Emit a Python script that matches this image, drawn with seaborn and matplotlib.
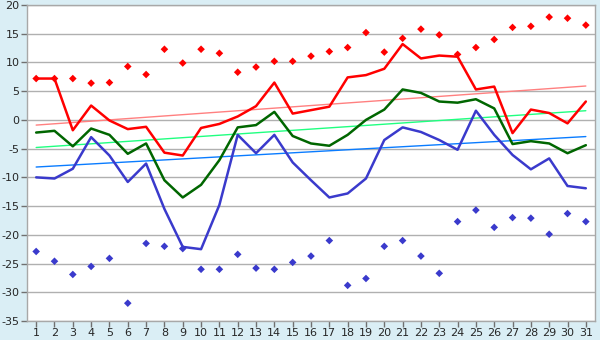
import matplotlib
matplotlib.use("Agg")
import matplotlib.pyplot as plt
import pandas as pd
import seaborn as sns

# daily temperatures for one month
days = list(range(1, 32))

max_t = [7.2, 7.2, -1.8, 2.5, -0.1, -1.6, -1.2, -5.7, -6.2, -1.4, -0.7, 0.6, 2.4, 6.5, 1.1, 1.7,
         2.3, 7.4, 7.8, 8.9, 13.2, 10.7, 11.2, 11.0, 5.3, 5.8, -2.3, 1.8, 1.2, -0.6, 3.2]
mean_t = [-2.2, -1.9, -4.6, -1.5, -2.6, -5.9, -4.1, -10.5, -13.5, -11.3, -7.0, -1.3, -0.9, 1.4, -2.8, -4.1,
          -4.5, -2.6, 0.0, 1.8, 5.3, 4.7, 3.2, 3.0, 3.6, 2.0, -4.2, -3.7, -4.1, -5.8, -4.4]
min_t = [-10.0, -10.2, -8.5, -3.0, -6.2, -10.8, -7.6, -15.5, -22.1, -22.5, -14.8, -2.6, -5.8, -2.6, -7.4, -10.5,
         -13.5, -12.8, -10.2, -3.5, -1.3, -2.1, -3.5, -5.2, 1.6, -2.6, -6.1, -8.6, -6.7, -11.5, -11.9]
abs_max = [7.2, 7.2, 7.2, 6.4, 6.5, 9.3, 7.9, 12.3, 9.9, 12.3, 11.6, 8.3, 9.2, 10.2, 10.2, 11.1,
           11.9, 12.6, 15.2, 11.8, 14.2, 15.8, 14.8, 11.4, 12.6, 14.0, 16.1, 16.3, 17.9, 17.7, 16.5]
abs_min = [-22.9, -24.6, -26.9, -25.5, -24.1, -31.9, -21.5, -22.0, -22.4, -26.0, -26.0, -23.4, -25.8, -26.0, -24.8, -23.7,
           -21.0, -28.8, -27.6, -22.0, -21.0, -23.7, -26.7, -17.7, -15.7, -18.7, -17.0, -17.1, -19.9, -16.3, -17.7]

# climate norm lines (first and last day of month)
norm_days = [1, 31]
norm_max = [-0.9, 5.9]
norm_mean = [-4.8, 1.6]
norm_min = [-8.2, -2.9]

df = pd.DataFrame({"day": days, "max": max_t, "mean": mean_t, "min": min_t,
                   "abs_max": abs_max, "abs_min": abs_min})
norms = pd.DataFrame({"day": norm_days, "max": norm_max, "mean": norm_mean, "min": norm_min})

sns.set_style("white")
plt.rcParams["font.family"] = ["DejaVu Sans"]
plt.rcParams["axes.unicode_minus"] = False

fig = plt.figure(figsize=(6, 3.4), dpi=100, facecolor="#daeef5")
ax = fig.add_axes([27 / 600, 19 / 340, 568 / 600, 316 / 340])
ax.set_facecolor("white")

# norm lines
sns.lineplot(data=norms, x="day", y="max", color="#ff8080", lw=1.0, ax=ax, zorder=2)
sns.lineplot(data=norms, x="day", y="mean", color="#20ff80", lw=1.0, ax=ax, zorder=2)
sns.lineplot(data=norms, x="day", y="min", color="#0a7cff", lw=1.0, ax=ax, zorder=2)

# daily lines
sns.lineplot(data=df, x="day", y="max", color="#ff0000", lw=1.8, ax=ax, zorder=3)
sns.lineplot(data=df, x="day", y="mean", color="#006600", lw=1.8, ax=ax, zorder=3)
sns.lineplot(data=df, x="day", y="min", color="#3a3acc", lw=1.8, ax=ax, zorder=3)

# absolute extremes
sns.scatterplot(data=df, x="day", y="abs_max", color="#ff0000", marker="D", s=15,
                edgecolor="none", ax=ax, zorder=4)
sns.scatterplot(data=df, x="day", y="abs_min", color="#3a3acc", marker="D", s=15,
                edgecolor="none", ax=ax, zorder=4)

ax.set_xlim(0.5, 31.5)
ax.set_ylim(-35, 20)
ax.set_xticks(days)
ax.set_yticks(range(-35, 21, 5))
ax.set_xlabel("")
ax.set_ylabel("")
ax.yaxis.grid(True, color="#b0b0b0", lw=1.0)
ax.set_axisbelow(True)
for s in ax.spines.values():
    s.set_color("#a8a8a8")
    s.set_linewidth(1.0)
ax.tick_params(axis="both", labelsize=8, length=4, width=1, color="#707070",
               direction="out", pad=1.5, bottom=True, left=True)
ax.tick_params(axis="x", pad=1)

fig.savefig("out.png", dpi=100, facecolor=fig.get_facecolor())
